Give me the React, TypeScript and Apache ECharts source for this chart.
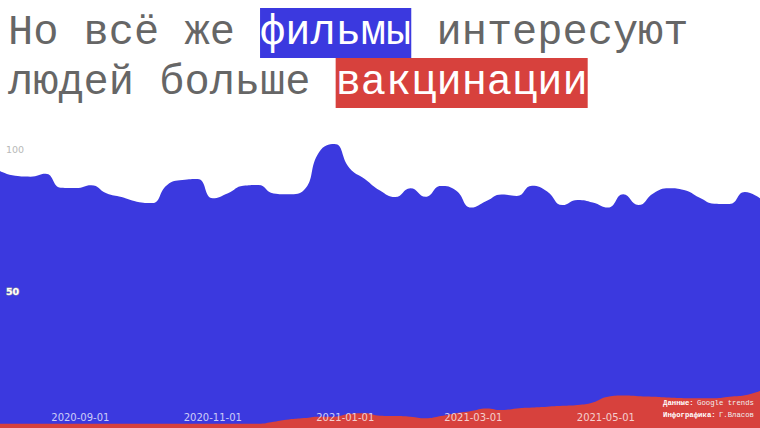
import React, { useEffect, useRef } from "react";
import * as echarts from "echarts";

// Weekly Google Trends data, week starting 2020-07-26
const START_DATE = "2020-07-26";
const WEEK_COUNT = 51;

const filmValues = [
  90.5, 88.8, 88.5, 89.5, 84.6, 84.5, 85.5, 82.7, 81.3, 79.7,
  79.2, 85.6, 87.3, 87.7, 80.9, 82.7, 85.3, 85.6, 82.6, 82.3,
  83.8, 97.2, 100, 91.5, 87.7, 83.6, 81.3, 84.4, 81.4, 85.2,
  83.6, 77.6, 79.9, 82.2, 81.7, 85.3, 83.3, 78.5, 80.3, 79.4,
  77.6, 82.3, 78.5, 82.7, 84.4, 83.8, 81.2, 79.0, 78.9, 83.1,
  80.9,
];

const vaccineValues = [
  1.5, 1.5, 1.5, 1.5, 1.5, 1.5, 1.5, 1.5, 1.5, 1.5,
  1.5, 1.5, 1.5, 1.5, 1.5, 1.5, 1.5, 1.5, 2.2, 3.0,
  3.5, 4.0, 4.0, 5.0, 5.2, 4.3, 4.2, 4.0, 3.4, 4.2,
  5.2, 6.0, 6.9, 6.3, 6.9, 7.2, 7.5, 7.8, 8.1, 9.0,
  11.0, 11.4, 11.2, 11.0, 10.7, 10.5, 10.5, 10.5, 11.0, 11.5,
  13.0,
];

const xTickLabels = ["2020-09-01", "2020-11-01", "2021-01-01", "2021-03-01", "2021-05-01"];
const yTickValues = [50, 100];

const BLUE = "#3b39df";
const RED = "#d7413d";

function toUTC(s: string) {
  const [y, m, d] = s.split("-").map(Number);
  return Date.UTC(y, m - 1, d);
}

function fmt(ts: number) {
  const d = new Date(ts);
  const p = (n: number) => String(n).padStart(2, "0");
  return `${d.getUTCFullYear()}-${p(d.getUTCMonth() + 1)}-${p(d.getUTCDate())}`;
}

export default function App() {
  const ref = useRef<HTMLDivElement>(null);

  useEffect(() => {
    if (!ref.current) return;
    const chart = echarts.init(ref.current, undefined, { renderer: "svg" });
    const start = toUTC(START_DATE);
    const weeks: number[] = [];
    for (let i = 0; i < WEEK_COUNT; i++) weeks.push(start + i * 7 * 86400000);

    const films = weeks.map((t, i) => [t, filmValues[i]]);
    const vacc = weeks.map((t, i) => [t, vaccineValues[i]]);

    chart.setOption({
      animation: false,
      backgroundColor: "#fff",
      title: {
        left: 8,
        top: 8,
        padding: 0,
        text: "Но всё же {b|фильмы} интересуют\nлюдей больше {r|вакцинации}",
        textStyle: {
          fontFamily: "Liberation Mono",
          fontSize: 42,
          fontWeight: "normal",
          color: "#666666",
          lineHeight: 50,
          rich: {
            b: {
              fontFamily: "Liberation Mono",
              fontSize: 42,
              color: "#fff",
              backgroundColor: BLUE,
              lineHeight: 50,
              height: 50,
            },
            r: {
              fontFamily: "Liberation Mono",
              fontSize: 42,
              color: "#fff",
              backgroundColor: RED,
              lineHeight: 50,
              height: 50,
            },
          },
        },
      },
      grid: { left: 0, right: 0, top: 144, bottom: 0, containLabel: false },
      xAxis: {
        type: "value",
        min: weeks[0],
        max: weeks[weeks.length - 1],
        z: 10,
        axisLine: { show: false },
        axisTick: { show: false },
        splitLine: { show: false },
        axisLabel: {
          inside: true,
          margin: 6,
          customValues: xTickLabels.map(toUTC),
          formatter: (v: number) => fmt(v),
          color: "rgba(255,255,255,0.75)",
          fontFamily: "DejaVu Sans",
          fontSize: 10,
        },
      },
      yAxis: {
        type: "value",
        min: 0,
        max: 100,
        interval: 50,
        axisLine: { show: false },
        axisTick: { show: false },
        splitLine: { show: false },
        z: 10,
        axisLabel: {
          inside: true,
          margin: 6,
          verticalAlign: "top",
          customValues: yTickValues,
          formatter: (v: number) => (v === 100 ? "{g|100}" : v === 50 ? "{w|50}" : ""),
          fontFamily: "DejaVu Sans",
          fontSize: 9,
          rich: {
            g: { color: "#b8b8b8", fontFamily: "DejaVu Sans", fontSize: 9.5 },
            w: {
              color: "#ffffff",
              textBorderColor: "#a0a0a0",
              textBorderWidth: 1,
              fontFamily: "DejaVu Sans",
              fontSize: 9.5,
              fontWeight: "bold",
            },
          },
        },
      },
      series: [
        {
          name: "фильмы",
          type: "line",
          data: films,
          smooth: 0.5,
          symbol: "none",
          lineStyle: { width: 0 },
          areaStyle: { color: BLUE, opacity: 1 },
          z: 1,
        },
        {
          name: "вакцинация",
          type: "line",
          data: vacc,
          smooth: 0.5,
          symbol: "none",
          lineStyle: { width: 0 },
          areaStyle: { color: RED, opacity: 1 },
          z: 2,
        },
      ],
      graphic: [
        {
          type: "text",
          right: 6,
          bottom: 7,
          z: 100,
          style: {
            text: "{k|Данные:} {v|Google trends}\n{k|Инфографика:} {v|Г.Власов}",
            align: "right",
            fill: "#fff",
            rich: {
              k: { fontFamily: "Liberation Mono", fontSize: 7.3, fontWeight: "bold", fill: "#fff", lineHeight: 8 },
              v: { fontFamily: "Liberation Mono", fontSize: 7.3, fill: "#f0f0f0", lineHeight: 8 },
            },
          },
        },
      ],
    });
    return () => chart.dispose();
  }, []);

  return (
    <div
      ref={ref}
      style={{ position: "absolute", left: 0, top: 0, width: 760, height: 428 }}
    />
  );
}
